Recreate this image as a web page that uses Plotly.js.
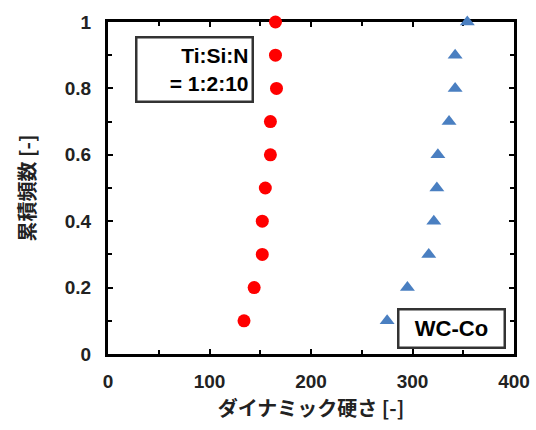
<!DOCTYPE html>
<html><head><meta charset="utf-8">
<script src="https://cdn.plot.ly/plotly-3.0.1.min.js"></script>
<style>body{margin:0;background:#fff}#c{width:536px;height:430px}</style>
</head><body><div id="c"></div>
<script>
const cumFreq = [0.1, 0.2, 0.3, 0.4, 0.5, 0.6, 0.7, 0.8, 0.9, 1.0];
const tisinHardness = [134, 144, 152, 152, 155, 160, 160, 166, 165, 165];
const wccoHardness = [275, 295, 316, 321, 324, 325, 336, 342, 342, 354];
const xTicks = [0, 100, 200, 300, 400];
const yTicks = [0, 0.2, 0.4, 0.6, 0.8, 1];
const yTickLabels = ['0', '0.2', '0.4', '0.6', '0.8', '1'];

const latin = 'Liberation Sans, Arial, sans-serif';
const cjk = 'Noto Sans CJK JP, sans-serif';
const axisCommon = {
  showline: true, linewidth: 3, linecolor: '#000', mirror: 'ticks', layer: 'below traces',
  ticks: 'inside', ticklen: 5, tickwidth: 2, tickcolor: '#000',
  showgrid: false, zeroline: false,
  tickfont: {family: latin, size: 19, color: '#222', weight: 'bold'}
};
const data = [
  {x: tisinHardness, y: cumFreq, mode: 'markers', type: 'scatter', name: 'Ti:Si:N', cliponaxis: false,
   marker: {symbol: 'circle', size: 13, color: '#ff0000'}},
  {x: wccoHardness, y: cumFreq, mode: 'markers', type: 'scatter', name: 'WC-Co', cliponaxis: false,
   marker: {symbol: 'triangle-up', size: 13, color: '#4a7fc1'}}
];
const layout = {
  width: 536, height: 430, showlegend: false,
  paper_bgcolor: '#fff', plot_bgcolor: '#fff',
  margin: {l: 108, r: 22, t: 22, b: 76},
  xaxis: Object.assign({}, axisCommon, {range: [0, 400], tickvals: xTicks, ticktext: xTicks.map(String),
    ticklabelstandoff: 8,
    minor: {dtick: 50, ticks: 'inside', ticklen: 4, tickwidth: 2, tickcolor: '#000'},
    title: {text: 'ダイナミック硬さ [-]', standoff: 12,
      font: {family: cjk, size: 20, color: '#222', weight: 'bold'}}}),
  yaxis: Object.assign({}, axisCommon, {range: [0, 1], tickvals: yTicks, ticktext: yTickLabels,
    ticklabelstandoff: 10,
    minor: {dtick: 0.1, ticks: 'inside', ticklen: 4, tickwidth: 2, tickcolor: '#000'},
    title: {text: '累積頻数 [-]', standoff: 24,
      font: {family: cjk, size: 20, color: '#222', weight: 'bold'}}}),
  annotations: [
    {xref: 'paper', yref: 'paper', x: 0.214, y: 0.857, xanchor: 'center', yanchor: 'middle',
     text: 'Ti:Si:N<br>= 1:2:10', showarrow: false, align: 'right', width: 108, height: 56,
     font: {family: latin, size: 21, color: '#000', weight: 'bold'},
     bordercolor: '#333', borderwidth: 2.5, borderpad: 3, bgcolor: '#fff'},
    {xref: 'paper', yref: 'paper', x: 0.845, y: 0.078, xanchor: 'center', yanchor: 'middle',
     text: 'WC-Co', showarrow: false, width: 98, height: 30,
     font: {family: latin, size: 22, color: '#000', weight: 'bold'},
     bordercolor: '#333', borderwidth: 2.5, borderpad: 3, bgcolor: '#fff'}
  ]
};
Plotly.newPlot('c', data, layout, {staticPlot: true});
</script></body></html>
